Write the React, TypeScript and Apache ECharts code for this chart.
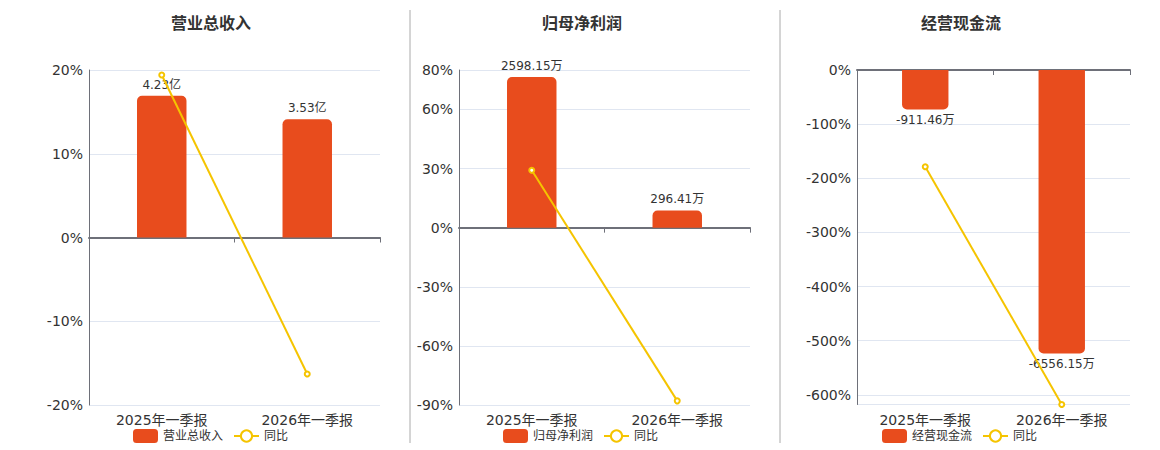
import React, { useEffect, useRef } from "react";
import * as echarts from "echarts";

const categories = ["2025年一季报", "2026年一季报"];
const panelTitles = ["营业总收入", "归母净利润", "经营现金流"];
const valueUnits = ["亿", "万", "万"];
const yoyName = "同比";

const revenueValues = [4.23, 3.53];
const revenueYoY = [19.4, -16.3];
const profitValues = [2598.15, 296.41];
const profitYoY = [29.1, -87.9];
const cashValues = [-911.46, -6556.15];
const cashYoY = [-178.7, -617.8];

const barValues = [revenueValues, profitValues, cashValues];
const yoyValues = [revenueYoY, profitYoY, cashYoY];

const BAR_COLOR = "#E84C1D";
const LINE_COLOR = "#F5C400";
const AXIS_COLOR = "#6E7079";
const TEXT_COLOR = "#333";
const FONT = "'DejaVu Sans', 'Noto Sans CJK SC', sans-serif";

// page offset of the chart container (body margin) plus component padding
const O = 8;
const PAD = 5;

const layouts = [
  { left: 89, width: 291, height: 335, titleLeft: 171, legendLeft: 133,
    pct: { min: -20, max: 20, interval: 10 }, bar: { min: -5, max: 5 }, neg: false },
  { left: 459, width: 291, height: 335, titleLeft: 542, legendLeft: 503,
    pct: { min: -90, max: 80, interval: 30 }, bar: { min: -3059, max: 2719 }, neg: false },
  { left: 857, width: 273, height: 334.5, titleLeft: 921, legendLeft: 882,
    pct: { min: -617.8, max: 0 }, bar: { min: -7737, max: 0 }, neg: true },
];

function buildOption() {
  const title: any[] = [];
  const legend: any[] = [];
  const grid: any[] = [];
  const xAxis: any[] = [];
  const yAxis: any[] = [];
  const series: any[] = [];

  layouts.forEach((L, i) => {
    title.push({
      text: panelTitles[i],
      left: L.titleLeft - O - PAD,
      top: 15 - O - PAD,
      textStyle: { fontSize: 16, fontWeight: "bold", color: TEXT_COLOR, fontFamily: FONT },
    });
    legend.push({
      left: L.legendLeft - O - PAD,
      top: 429 - O - PAD,
      itemWidth: 25,
      itemHeight: 14,
      itemGap: 10,
      data: [panelTitles[i], yoyName],
      textStyle: { fontSize: 12, color: TEXT_COLOR, fontFamily: FONT },
    });
    grid.push({ left: L.left - O, top: 70 - O, width: L.width, height: L.height });

    xAxis.push({
      type: "category",
      gridIndex: i,
      data: categories,
      position: "bottom",
      axisLine: { show: false, onZero: false },
      axisTick: { show: false },
      axisLabel: { fontSize: 14, color: TEXT_COLOR, margin: 8, fontFamily: FONT },
      splitLine: { show: false },
    });
    xAxis.push({
      type: "category",
      gridIndex: i,
      data: categories,
      position: "bottom",
      axisLine: { show: true, onZero: true, lineStyle: { color: AXIS_COLOR, width: 2 } },
      axisTick: { show: true, length: 5, lineStyle: { color: AXIS_COLOR, width: 1 } },
      axisLabel: { show: false },
      splitLine: { show: false },
    });

    const pctAxis: any = {
      type: "value",
      gridIndex: i,
      position: "left",
      min: L.pct.min,
      max: L.pct.max,
      axisLine: { show: true, lineStyle: { color: AXIS_COLOR, width: 1 } },
      axisTick: { show: false },
      axisLabel: { fontSize: 14, color: TEXT_COLOR, margin: 6, formatter: "{value}%", fontFamily: FONT },
      splitLine: { show: true, lineStyle: { color: "#E0E6F1", width: 1 } },
    };
    if ((L.pct as any).interval != null) pctAxis.interval = (L.pct as any).interval;
    if (L.neg) pctAxis.axisLabel.showMinLabel = false;
    yAxis.push(pctAxis);
    yAxis.push({
      type: "value",
      gridIndex: i,
      position: "right",
      show: false,
      min: L.bar.min,
      max: L.bar.max,
      splitLine: { show: false },
    });

    series.push({
      name: panelTitles[i],
      type: "bar",
      xAxisIndex: i * 2,
      yAxisIndex: i * 2 + 1,
      data: barValues[i],
      barWidth: "34%",
      itemStyle: {
        color: BAR_COLOR,
        borderRadius: L.neg ? [0, 0, 5, 5] : [5, 5, 0, 0],
      },
      label: {
        show: true,
        position: L.neg ? "bottom" : "top",
        distance: 5,
        fontSize: 12,
        color: TEXT_COLOR,
        fontFamily: FONT,
        formatter: (p: any) => `${p.value}${valueUnits[i]}`,
      },
      z: 2,
    });
    series.push({
      name: yoyName,
      type: "line",
      xAxisIndex: i * 2,
      yAxisIndex: i * 2,
      data: yoyValues[i],
      symbol: "emptyCircle",
      symbolSize: 5,
      itemStyle: { color: LINE_COLOR },
      lineStyle: { color: LINE_COLOR, width: 2 },
      label: { show: false },
      z: 3,
    });
  });

  const graphic = [410, 780].map((x) => ({
    type: "line",
    shape: { x1: x - O, y1: 10 - O, x2: x - O, y2: 443 - O },
    style: { stroke: "#AAAAAA", lineWidth: 1 },
  }));

  return {
    animation: false,
    backgroundColor: "#fff",
    textStyle: { fontFamily: FONT },
    title,
    legend,
    grid,
    xAxis,
    yAxis,
    series,
    graphic,
    tooltip: { show: false },
  };
}

export default function App() {
  const ref = useRef<HTMLDivElement>(null);
  useEffect(() => {
    if (!ref.current) return;
    const chart = echarts.init(ref.current, null, { renderer: "svg" });
    chart.setOption(buildOption() as any);
    return () => chart.dispose();
  }, []);
  return <div ref={ref} style={{ width: 1152, height: 442, background: "#fff" }} />;
}
